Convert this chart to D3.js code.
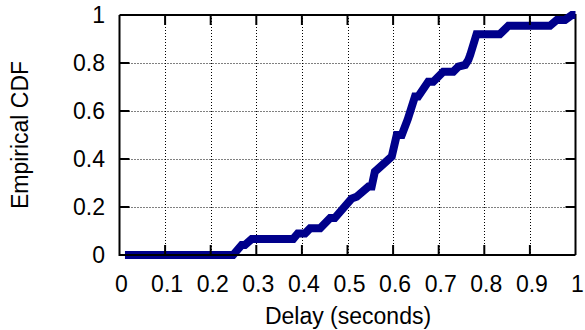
<!DOCTYPE html>
<html>
<head>
<meta charset="utf-8">
<script src="https://cdn.jsdelivr.net/npm/d3@7"></script>
<style>
  body { margin: 0; background: #fff; }
  text { font-family: "Liberation Sans", Arial, sans-serif; fill: #000; }
</style>
</head>
<body>
<div id="chart"></div>
<script>
// empirical CDF points
var delay = [0.012, 0.249, 0.268, 0.275, 0.290, 0.381, 0.391, 0.407, 0.418, 0.440,
             0.462, 0.472, 0.509, 0.520, 0.546, 0.553, 0.560, 0.597, 0.608, 0.619,
             0.632, 0.648, 0.655, 0.677, 0.688, 0.710, 0.732, 0.743, 0.758, 0.765,
             0.769, 0.783, 0.834, 0.853, 0.944, 0.959, 0.977, 0.992, 1.0];
var cdf = [0, 0, 0.042, 0.042, 0.067, 0.067, 0.090, 0.090, 0.111, 0.111,
           0.154, 0.154, 0.235, 0.243, 0.285, 0.285, 0.347, 0.410, 0.500, 0.500,
           0.565, 0.660, 0.660, 0.722, 0.722, 0.764, 0.764, 0.785, 0.792, 0.8125,
           0.833, 0.920, 0.920, 0.955, 0.955, 0.979, 0.979, 1.0, 1.0];
var xTicks = [0, 0.1, 0.2, 0.3, 0.4, 0.5, 0.6, 0.7, 0.8, 0.9, 1];
var yTicks = [0, 0.2, 0.4, 0.6, 0.8, 1];

var width = 585, height = 330;
var pLeft = 119.5, pRight = 575.5, pTop = 15, pBottom = 255;
var tickLen = 10;
var fontSize = '23px';

var x = d3.scaleLinear().domain([0, 1]).range([pLeft, pRight]);
var y = d3.scaleLinear().domain([0, 1]).range([pBottom, pTop]);

var svg = d3.select('#chart')
    .append('svg')
    .attr('width', width)
    .attr('height', height);

// dotted grid
var grid = svg.append('g')
    .attr('stroke', '#000')
    .attr('stroke-width', 1)
    .attr('stroke-dasharray', '1,2');
grid.selectAll('.gx')
    .data(xTicks.slice(1, -1))
    .enter()
    .append('line')
    .attr('x1', function (d) { return Math.round(x(d)) + 0.5; })
    .attr('x2', function (d) { return Math.round(x(d)) + 0.5; })
    .attr('y1', pTop)
    .attr('y2', pBottom);
grid.selectAll('.gy')
    .data(yTicks.slice(1, -1))
    .enter()
    .append('line')
    .attr('y1', function (d) { return Math.round(y(d)) + 0.5; })
    .attr('y2', function (d) { return Math.round(y(d)) + 0.5; })
    .attr('x1', pLeft)
    .attr('x2', pRight);

// top and right border under the curve
svg.append('path')
    .attr('d', 'M' + pLeft + ',' + pTop + 'H' + pRight + 'V' + pBottom)
    .attr('fill', 'none')
    .attr('stroke', '#000')
    .attr('stroke-width', 2);

var line = d3.line()
    .x(function (d, i) { return x(delay[i]); })
    .y(function (d, i) { return y(cdf[i]); });

svg.append('path')
    .attr('d', line(delay))
    .attr('fill', 'none')
    .attr('stroke', '#00008b')
    .attr('stroke-width', 8);

// bottom and left border on top
svg.append('path')
    .attr('d', 'M' + pLeft + ',' + pTop + 'V' + pBottom + 'H' + pRight)
    .attr('fill', 'none')
    .attr('stroke', '#000')
    .attr('stroke-width', 2);

// ticks, mirrored on all four sides
var ticks = svg.append('g').attr('stroke', '#000').attr('stroke-width', 2);
xTicks.slice(1, -1).forEach(function (d) {
    ticks.append('line').attr('x1', x(d)).attr('x2', x(d)).attr('y1', pBottom).attr('y2', pBottom - tickLen);
    ticks.append('line').attr('x1', x(d)).attr('x2', x(d)).attr('y1', pTop).attr('y2', pTop + tickLen);
});
yTicks.slice(1, -1).forEach(function (d) {
    ticks.append('line').attr('y1', y(d)).attr('y2', y(d)).attr('x1', pLeft).attr('x2', pLeft + tickLen);
    ticks.append('line').attr('y1', y(d)).attr('y2', y(d)).attr('x1', pRight).attr('x2', pRight - tickLen);
});

// tick labels
svg.selectAll('.xl')
    .data(xTicks)
    .enter()
    .append('text')
    .attr('x', function (d) { return x(d) + 2; })
    .attr('y', 292)
    .attr('text-anchor', 'middle')
    .style('font-size', fontSize)
    .text(function (d) { return d; });

svg.selectAll('.yl')
    .data(yTicks)
    .enter()
    .append('text')
    .attr('x', 105)
    .attr('y', function (d) { return y(d); })
    .attr('dy', '0.35em')
    .attr('text-anchor', 'end')
    .style('font-size', fontSize)
    .text(function (d) { return d; });

svg.append('text')
    .attr('x', 348)
    .attr('y', 324)
    .attr('text-anchor', 'middle')
    .style('font-size', fontSize)
    .text('Delay (seconds)');

svg.append('text')
    .attr('transform', 'translate(28,' + (pTop + pBottom) / 2 + ') rotate(-90)')
    .attr('text-anchor', 'middle')
    .style('font-size', fontSize)
    .text('Empirical CDF');
</script>
</body>
</html>
